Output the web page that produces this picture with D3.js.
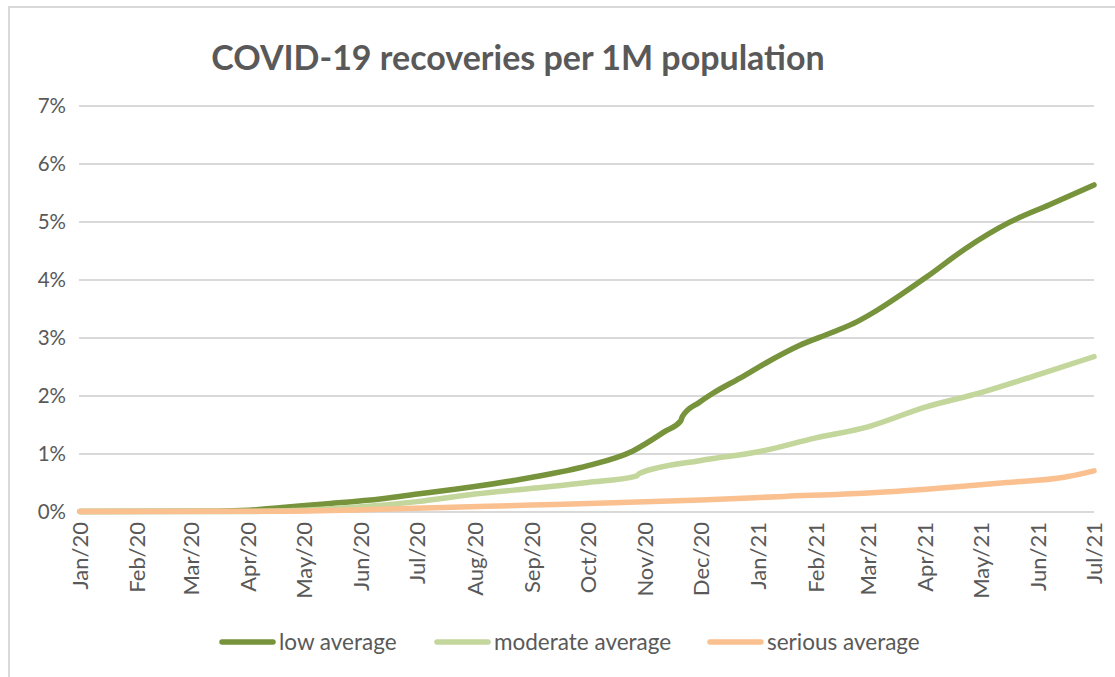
<!DOCTYPE html>
<html>
<head>
<meta charset="utf-8">
<script src="https://cdn.jsdelivr.net/npm/d3@7"></script>
<style>
  html, body { margin: 0; padding: 0; background: #fff; }
  svg { display: block; }
  text { font-family: Lato, "Open Sans", sans-serif; fill: #595959; }
</style>
</head>
<body>
<svg id="chart" width="1115" height="677"></svg>
<script>
// ---- data (values in %) ----
const title = "COVID-19 recoveries per 1M population";
const seriesNames = ["low average", "moderate average", "serious average"];
const seriesColors = ["#77933C", "#C3D69B", "#FAC090"];

const lowDates = ["2020-01-01","2020-03-15","2020-04-01","2020-04-19","2020-05-12","2020-06-12","2020-07-01","2020-07-18","2020-08-01","2020-08-23","2020-09-01","2020-10-01","2020-10-25","2020-11-12","2020-11-20","2020-11-21","2020-11-30","2020-12-07","2020-12-22","2021-01-05","2021-01-23","2021-02-10","2021-02-23","2021-03-06","2021-03-18","2021-04-02","2021-04-23","2021-05-16","2021-06-07","2021-07-01"];
const lowValues = [0,0.005,0.02,0.07,0.13,0.22,0.30,0.37,0.43,0.54,0.59,0.79,1.04,1.39,1.56,1.64,1.88,2.03,2.30,2.56,2.86,3.09,3.27,3.47,3.72,4.05,4.54,4.98,5.29,5.63];

const moderateDates = ["2020-01-01","2020-04-01","2020-05-01","2020-06-01","2020-07-01","2020-08-01","2020-09-01","2020-10-01","2020-10-27","2020-10-29","2020-12-01","2021-01-01","2021-02-01","2021-03-01","2021-04-01","2021-05-01","2021-06-01","2021-07-01"];
const moderateValues = [0,0,0.02,0.08,0.17,0.30,0.40,0.50,0.61,0.66,0.88,1.03,1.27,1.46,1.80,2.05,2.36,2.67];

const seriousDates = ["2020-01-01","2020-04-15","2020-06-01","2020-07-15","2020-09-01","2020-10-15","2020-12-01","2021-01-15","2021-03-01","2021-04-15","2021-05-15","2021-06-15","2021-07-01"];
const seriousValues = [0,0.005,0.03,0.07,0.11,0.15,0.20,0.26,0.32,0.42,0.50,0.59,0.70];

const yTicks = [0,1,2,3,4,5,6,7];
const xTickDates = ["2020-01-01","2020-02-01","2020-03-01","2020-04-01","2020-05-01","2020-06-01","2020-07-01","2020-08-01","2020-09-01","2020-10-01","2020-11-01","2020-12-01","2021-01-01","2021-02-01","2021-03-01","2021-04-01","2021-05-01","2021-06-01","2021-07-01"];

// ---- drawing ----
const parse = d3.utcParse("%Y-%m-%d");
const fmt = d3.utcFormat("%b/%y");
const svg = d3.select("#chart");

// chart border (extends past right/bottom edge)
svg.append("rect").attr("x", 9).attr("y", 7).attr("width", 1300).attr("height", 900)
  .attr("fill", "none").attr("stroke", "#d9d9d9").attr("stroke-width", 2);

const x = d3.scaleUtc().domain([parse("2020-01-01"), parse("2021-07-01")]).range([80, 1094]);
const y = d3.scaleLinear().domain([0, 7]).range([511.5, 105.5]);

// gridlines + y labels
const yAxis = d3.axisLeft(y).tickValues(yTicks).tickSize(-(1094 - 79)).tickFormat(d => d + "%").tickPadding(13);
const gy = svg.append("g").attr("transform", "translate(79,0)").call(yAxis);
gy.select(".domain").remove();
gy.selectAll(".tick line").attr("stroke", "#d9d9d9").attr("stroke-width", 2);
gy.selectAll(".tick text").attr("font-size", 20.5).style("fill", "#595959");

// x labels
svg.append("g").selectAll("text").data(xTickDates).join("text")
  .attr("transform", d => `translate(${x(parse(d))},522) rotate(-90)`)
  .attr("text-anchor", "end").attr("dy", "0.35em").attr("font-size", 22)
  .text(d => fmt(parse(d)));

// lines
const line = d3.line().x(d => x(d[0])).y(d => y(d[1])).curve(d3.curveMonotoneX);
const series = [
  { dates: lowDates, values: lowValues },
  { dates: moderateDates, values: moderateValues },
  { dates: seriousDates, values: seriousValues }
];
series.forEach((s, i) => {
  const pts = s.dates.map((d, k) => [parse(d), s.values[k]]);
  svg.append("path").datum(pts).attr("d", line)
    .attr("fill", "none").attr("stroke", seriesColors[i]).attr("stroke-width", 5.5)
    .attr("stroke-linejoin", "round").attr("stroke-linecap", "round");
});

// title
svg.append("text").attr("x", 518).attr("y", 70).attr("text-anchor", "middle")
  .attr("font-size", 34).attr("font-weight", "bold").style("fill", "#595959").text(title);

// legend
const legendX = [220, 435, 708];
const lg = svg.append("g");
seriesNames.forEach((n, i) => {
  lg.append("line").attr("x1", legendX[i] + 2).attr("x2", legendX[i] + 53)
    .attr("y1", 642).attr("y2", 642).attr("stroke", seriesColors[i])
    .attr("stroke-width", 5.5).attr("stroke-linecap", "round");
  lg.append("text").attr("x", legendX[i] + 59).attr("y", 642).attr("dy", "0.35em")
    .attr("font-size", 22.5).text(n);
});
</script>
</body>
</html>
